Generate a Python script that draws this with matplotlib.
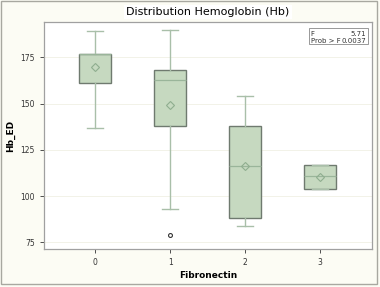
import matplotlib
matplotlib.use("Agg")
import matplotlib.pyplot as plt

# data
groups = [0, 1, 2, 3]
q1 = [161, 138, 88, 104]
medians = [177, 163, 116.5, 111]
q3 = [177, 168, 138, 117]
whislo = [137, 93, 84, 104]
whishi = [189, 190, 154, 117]
means = [169.5, 149, 116.5, 110.5]
fliers = [[], [79], [], []]

f_value = "5.71"
p_value = "0.0037"

stats = []
for i in range(len(groups)):
    stats.append({
        "label": str(groups[i]),
        "q1": q1[i], "med": medians[i], "q3": q3[i],
        "whislo": whislo[i], "whishi": whishi[i],
        "mean": means[i], "fliers": fliers[i],
    })

fig = plt.figure(figsize=(3.8, 2.87), dpi=100)
fig.patch.set_facecolor("#fcfcf4")
ax = fig.add_axes([0.116, 0.132, 0.863, 0.791])
ax.set_facecolor("white")

ax.bxp(stats, positions=groups, widths=0.42, showmeans=True, patch_artist=True,
       boxprops=dict(facecolor="#c6d9c0", edgecolor="#6f7a6f", linewidth=1.0),
       medianprops=dict(color="#9ab59a", linewidth=0.9),
       whiskerprops=dict(color="#a9bfa9", linewidth=1.0),
       capprops=dict(color="#a9bfa9", linewidth=1.0),
       meanprops=dict(marker="D", markersize=4, markerfacecolor="none",
                      markeredgecolor="#8fae8f", markeredgewidth=0.8),
       flierprops=dict(marker="o", markersize=2.8, markerfacecolor="none",
                       markeredgecolor="#333333", markeredgewidth=0.8))

ax.set_xlim(-0.68, 3.69)
ax.set_ylim(71.4, 194)
ax.set_yticks([75, 100, 125, 150, 175])
ax.set_xticks(groups)
ax.set_xticklabels([str(g) for g in groups])
ax.tick_params(labelsize=5.5, colors="#333333", length=3, width=0.6)
ax.yaxis.grid(True, color="#f0f0e4", linewidth=0.6)
ax.set_axisbelow(True)
for s in ax.spines.values():
    s.set_color("#a0a0a0")
    s.set_linewidth(0.9)

ax.set_xlabel("Fibronectin", fontsize=6.5, fontweight="bold", labelpad=3)
ax.set_ylabel("Hb_ED", fontsize=6.5, fontweight="bold", labelpad=4)
ax.set_title("Distribution Hemoglobin (Hb)", fontsize=8, pad=5,
             bbox=dict(facecolor="white", edgecolor="none", pad=1.5))

# stats inset
ax.text(0.813, 0.962, "F\nProb > F", transform=ax.transAxes, fontsize=5,
        va="top", ha="left", linespacing=1.3, color="#333333")
ax.text(0.983, 0.962, f_value + "\n" + p_value, transform=ax.transAxes, fontsize=5,
        va="top", ha="right", linespacing=1.3, color="#333333")
ax.add_patch(plt.Rectangle((0.808, 0.905), 0.18, 0.07, transform=ax.transAxes,
                           facecolor="none", edgecolor="#888888", linewidth=0.6))

# outer frame
fig.add_artist(plt.Rectangle((0.003, 0.012), 0.988, 0.983, transform=fig.transFigure,
                             facecolor="none", edgecolor="#a8a8a0", linewidth=1.0))

fig.savefig("out.png", dpi=100, facecolor=fig.get_facecolor())
